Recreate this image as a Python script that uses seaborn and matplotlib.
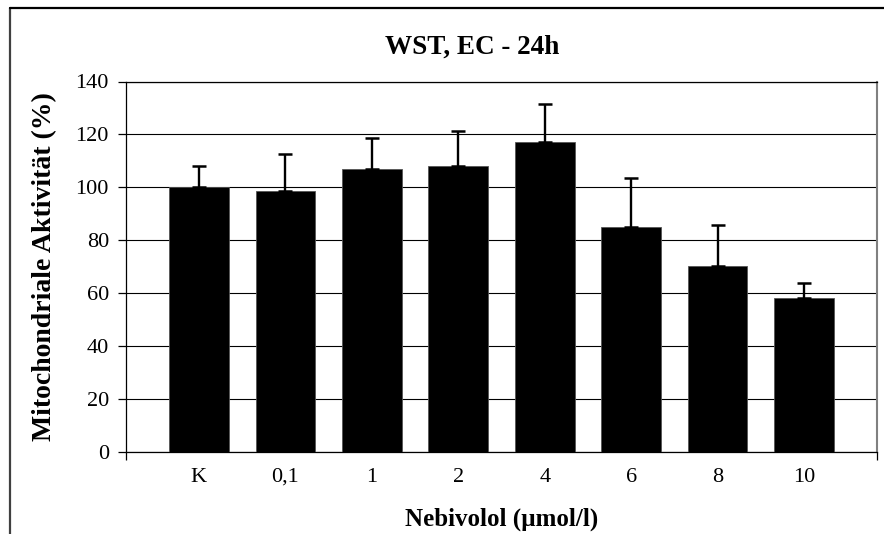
import matplotlib
matplotlib.use("Agg")
import matplotlib.pyplot as plt
import seaborn as sns
import numpy as np
import pandas as pd
from matplotlib.lines import Line2D

categories = ["K", "0,1", "1", "2", "4", "6", "8", "10"]
values = [100.0, 98.7, 106.9, 108.0, 117.2, 85.0, 70.3, 58.3]
errors = [8.0, 13.8, 11.6, 13.2, 14.2, 18.6, 15.5, 5.5]
yticks = [0, 20, 40, 60, 80, 100, 120, 140]

title = "WST, EC - 24h"
xlabel = "Nebivolol (\u00b5mol/l)"
ylabel = "Mitochondriale Aktivit\u00e4t (%)"

sns.set_theme(style="white")
plt.rcParams["font.family"] = ["Liberation Serif", "DejaVu Serif"]
plt.rcParams.update({"text.color": "black", "axes.labelcolor": "black",
                     "xtick.color": "black", "ytick.color": "black"})

W, H = 884, 534
fig = plt.figure(figsize=(W / 100, H / 100), dpi=100)
fig.patch.set_facecolor("white")

L, R, T, B = 126, 877, 81.5, 452
ax = fig.add_axes([L / W, 1 - B / H, (R - L) / W, (B - T) / H])

df = pd.DataFrame({"cat": categories, "val": values})
sns.barplot(data=df, x="cat", y="val", color="black", saturation=1,
            width=0.69, errorbar=None, ax=ax, zorder=3,
            edgecolor="#555555", linewidth=0.6)

x = np.arange(len(categories))
ax.errorbar(x, values, yerr=[np.zeros(len(errors)), errors], fmt="none",
            ecolor="black", elinewidth=1.7, capsize=5, capthick=1.8, zorder=4)

extra = 0.343
ax.set_xlim(-0.5 - extra, len(categories) - 0.5 + extra)
ax.set_ylim(0, 140)
ax.set_yticks(yticks)
ax.set_yticklabels([str(t) for t in yticks], fontsize=16)
ax.tick_params(axis="y", direction="out", length=5.8, width=0.9,
               color="black", pad=6.5, left=True, labelcolor="black")
ax.tick_params(axis="x", length=0, pad=11.5, labelsize=16, labelcolor="black")
ax.set_xticks(x)
ax.set_xticklabels(categories)
ax.set_xticks([-0.5 - extra, len(categories) - 0.5 + extra], minor=True)
ax.tick_params(axis="x", which="minor", direction="out", length=5.8,
               width=0.9, color="black", bottom=True)

ax.grid(axis="y", color="black", linewidth=0.8, zorder=0)
ax.set_axisbelow(True)
ax.grid(axis="x", visible=False)

for s in ["left", "bottom", "top"]:
    ax.spines[s].set_color("black")
    ax.spines[s].set_linewidth(0.9)
ax.spines["right"].set_color("#808080")
ax.spines["right"].set_linewidth(1.5)

ax.set_xlabel(xlabel, fontsize=18, fontweight="bold", va="center", color="black")
ax.xaxis.set_label_coords(0.5, (B - 519) / (B - T))
ax.set_ylabel(ylabel, fontsize=20, fontweight="bold", va="center", color="black")
ax.yaxis.set_label_coords((45 - L) / (R - L), 0.5)

fig.text(472 / W, 1 - 47 / H, title, fontsize=19.5, fontweight="bold",
         ha="center", va="center", color="black")

# outer chart frame (extends beyond right and bottom of the image)
fig.add_artist(Line2D([10 / W, 10 / W], [1 - 8 / H, -0.05], transform=fig.transFigure,
                      color="#404040", linewidth=1.6))
fig.add_artist(Line2D([10 / W, 1.05], [1 - 8 / H, 1 - 8 / H], transform=fig.transFigure,
                      color="black", linewidth=1.6))

fig.savefig("out.png", dpi=100, facecolor="white")
